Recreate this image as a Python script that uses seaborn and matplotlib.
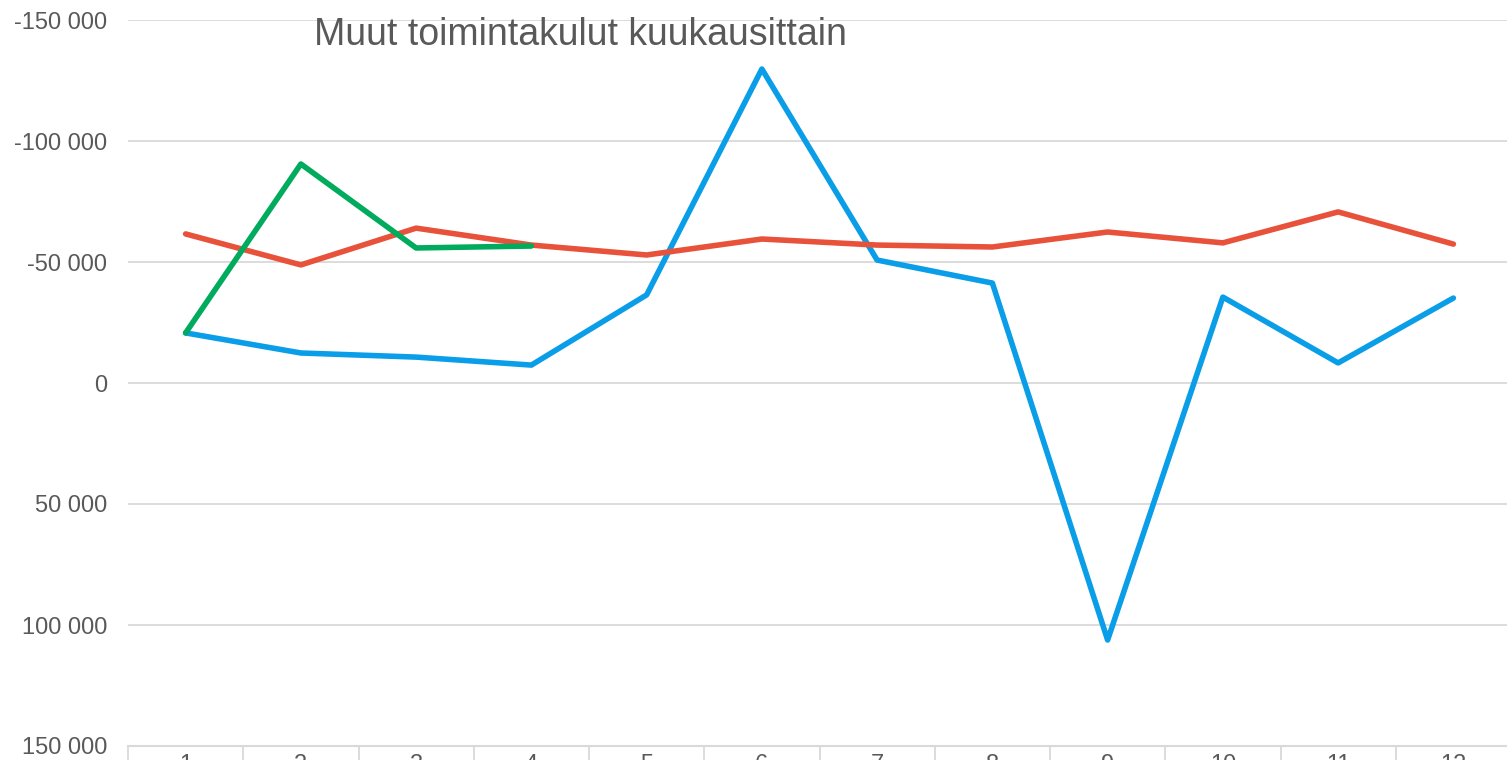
import matplotlib
matplotlib.use("Agg")
import matplotlib.pyplot as plt
import seaborn as sns
import pandas as pd
from matplotlib.ticker import FixedLocator, FuncFormatter

months = list(range(1, 13))
blue_vals = [-20700, -12400, -10700, -7400, -36400, -129750, -50800, -41300, 106200, -35500, -8300, -35100]
red_vals = [-61600, -48800, -64000, -57000, -52900, -59500, -57000, -56200, -62400, -57900, -70700, -57400]
green_months = [1, 2, 3, 4]
green_vals = [-20700, -90500, -55800, -56600]
y_ticks = [-150000, -100000, -50000, 0, 50000, 100000, 150000]
title = "Muut toimintakulut kuukausittain"

df = pd.concat([
    pd.DataFrame({"kk": months, "arvo": blue_vals, "sarja": "A"}),
    pd.DataFrame({"kk": months, "arvo": red_vals, "sarja": "B"}),
    pd.DataFrame({"kk": green_months, "arvo": green_vals, "sarja": "C"}),
], ignore_index=True)

sns.set_theme(style="white")
plt.rcParams["font.family"] = ["Liberation Sans", "DejaVu Sans"]

W, H = 1507, 760
fig = plt.figure(figsize=(W / 100, H / 100), dpi=100)
ax = fig.add_axes([128 / W, (H - 746) / H, (1511 - 128) / W, (746 - 20) / H])

palette = {"A": "#0A9DE8", "B": "#E8513A", "C": "#00AB5E"}
sns.lineplot(data=df, x="kk", y="arvo", hue="sarja", palette=palette, ax=ax,
             linewidth=4.0, legend=False, sort=False)
for ln in ax.lines:
    ln.set_solid_capstyle("round")
    ln.set_solid_joinstyle("round")
    ln.set_clip_on(False)

ax.set_xlim(0.5, 12.5)
ax.set_ylim(150000, -150000)
ax.yaxis.set_major_locator(FixedLocator(y_ticks))
ax.yaxis.set_major_formatter(FuncFormatter(lambda v, p: f"{int(v):,}".replace(",", " ")))
ax.xaxis.set_major_locator(FixedLocator(months))
ax.xaxis.set_minor_locator(FixedLocator([m + 0.5 for m in range(0, 13)]))
ax.set_xticklabels([str(m) for m in months])

ax.grid(axis="y", color="#D9D9D9", linewidth=1.3)
ax.set_axisbelow(True)
for s in ["top", "right", "left"]:
    ax.spines[s].set_visible(False)
ax.spines["bottom"].set_color("#D9D9D9")
ax.spines["bottom"].set_linewidth(1.5)

ax.tick_params(axis="y", length=0, pad=15, labelsize=17, labelcolor="#595959")
ax.tick_params(axis="x", which="major", bottom=True, length=0, pad=6, labelsize=17, labelcolor="#595959")
ax.tick_params(axis="x", which="minor", bottom=True, length=14, width=1.3, color="#D9D9D9", direction="out")
ax.set_xlabel("")
ax.set_ylabel("")

fig.text(580 / W, 1 - 35 / H, title, ha="center", va="center", fontsize=27, color="#595959")

fig.savefig("out.png", dpi=100)
